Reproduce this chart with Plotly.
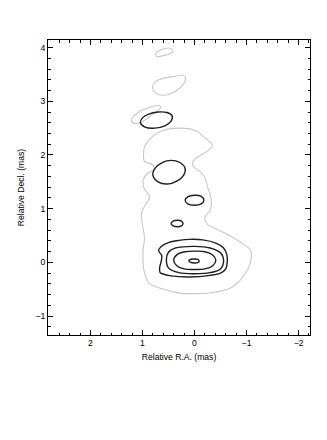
import plotly.graph_objects as go

GRAY_A_X = [0.75, 0.70, 0.60, 0.49, 0.42, 0.43, 0.52, 0.64, 0.73]
GRAY_A_Y = [3.86, 3.93, 3.97, 3.99, 3.96, 3.91, 3.87, 3.84, 3.83]

GRAY_B_X = [0.805, 0.74, 0.59, 0.40, 0.21, 0.17, 0.22, 0.34, 0.52, 0.71, 0.79]
GRAY_B_Y = [3.28, 3.37, 3.43, 3.46, 3.48, 3.42, 3.31, 3.20, 3.12, 3.13, 3.20]

GRAY_C_X = [1.21, 1.15, 1.02, 0.85, 0.71, 0.64, 0.70, 0.80, 0.92, 1.05, 1.17]
GRAY_C_Y = [2.67, 2.74, 2.83, 2.89, 2.92, 2.89, 2.83, 2.76, 2.67, 2.60, 2.59]

GRAY_D_X = [0.62, 0.45, 0.12, -0.05, -0.16, -0.32, -0.34, -0.28, -0.13, 0.02, 0.03,
            -0.10, -0.20, -0.26, -0.32, -0.30, -0.20, -0.23, -0.40, -0.60, -0.88,
            -1.08, -1.08, -0.95, -0.72, -0.35, 0.0, 0.30, 0.62, 0.88, 0.97, 0.99,
            0.96, 1.00, 1.02, 0.96, 0.86, 0.96, 0.99, 0.90, 0.78, 0.80, 0.96, 0.98,
            0.96, 0.87, 0.75]
GRAY_D_Y = [2.45, 2.49, 2.49, 2.44, 2.35, 2.22, 2.17, 2.10, 2.00, 1.90, 1.80,
            1.70, 1.58, 1.38, 1.19, 0.97, 0.84, 0.73, 0.63, 0.54, 0.38,
            0.22, 0.02, -0.24, -0.46, -0.56, -0.58, -0.57, -0.49, -0.38, -0.15, 0.20,
            0.45, 0.70, 0.90, 1.05, 1.22, 1.36, 1.52, 1.66, 1.73, 1.82, 1.88, 2.00,
            2.15, 2.28, 2.39]

BLACK_A_X = [1.04, 1.00, 0.88, 0.70, 0.53, 0.43, 0.45, 0.57, 0.76, 0.95]
BLACK_A_Y = [2.60, 2.69, 2.76, 2.80, 2.79, 2.73, 2.63, 2.54, 2.50, 2.52]

BLACK_B_X = [0.80, 0.75, 0.62, 0.45, 0.28, 0.18, 0.21, 0.33, 0.52, 0.70]
BLACK_B_Y = [1.63, 1.76, 1.86, 1.90, 1.86, 1.75, 1.62, 1.52, 1.46, 1.50]

BLACK_C_X = [0.18, 0.13, 0.0, -0.13, -0.18, -0.13, 0.0, 0.13]
BLACK_C_Y = [1.16, 1.22, 1.25, 1.23, 1.16, 1.09, 1.065, 1.09]

BLACK_D_X = [0.45, 0.41, 0.33, 0.25, 0.22, 0.25, 0.33, 0.41]
BLACK_D_Y = [0.725, 0.77, 0.785, 0.77, 0.725, 0.68, 0.665, 0.68]

CORE_1_X = [0.69, 0.62, 0.50, 0.30, 0.09, -0.16, -0.41, -0.56, -0.62, -0.63, -0.60,
            -0.50, -0.30, 0.09, 0.45, 0.62, 0.66, 0.67, 0.64, 0.63]
CORE_1_Y = [0.22, 0.31, 0.37, 0.41, 0.43, 0.42, 0.36, 0.27, 0.15, 0.02, -0.12,
            -0.20, -0.24, -0.27, -0.25, -0.21, -0.19, -0.10, 0.02, 0.13]

CORE_2_X = [0.54, 0.50, 0.36, 0.0, -0.30, -0.50, -0.56, -0.50, -0.30, 0.0, 0.30, 0.50]
CORE_2_Y = [0.05, 0.19, 0.27, 0.30, 0.27, 0.18, 0.03, -0.12, -0.19, -0.21, -0.19, -0.10]

CORE_3_X = [0.40, 0.33, 0.18, 0.0, -0.20, -0.35, -0.41, -0.35, -0.20, 0.0, 0.20, 0.34]
CORE_3_Y = [0.04, 0.15, 0.20, 0.21, 0.20, 0.14, 0.04, -0.06, -0.12, -0.13, -0.12, -0.06]

CORE_4_X = [0.11, 0.07, 0.0, -0.07, -0.09, -0.06, 0.0, 0.07]
CORE_4_Y = [0.03, 0.06, 0.065, 0.055, 0.025, -0.005, -0.01, 0.0]

GRAY = "#c8c8c8"
BLACK = "#1e1e1e"
FONT = "Liberation Sans, Arial, sans-serif"


def closed(xs, ys):
    return xs + xs[:1], ys + ys[:1]


fig = go.Figure()

for xs, ys in [(GRAY_A_X, GRAY_A_Y), (GRAY_B_X, GRAY_B_Y),
               (GRAY_C_X, GRAY_C_Y), (GRAY_D_X, GRAY_D_Y)]:
    cx, cy = closed(xs, ys)
    fig.add_trace(go.Scatter(x=cx, y=cy, mode="lines", showlegend=False, hoverinfo="skip",
                             line={"color": GRAY, "width": 1.1, "shape": "spline", "smoothing": 1}))

for xs, ys in [(BLACK_A_X, BLACK_A_Y), (BLACK_B_X, BLACK_B_Y), (BLACK_C_X, BLACK_C_Y),
               (BLACK_D_X, BLACK_D_Y), (CORE_1_X, CORE_1_Y), (CORE_2_X, CORE_2_Y),
               (CORE_3_X, CORE_3_Y), (CORE_4_X, CORE_4_Y)]:
    cx, cy = closed(xs, ys)
    fig.add_trace(go.Scatter(x=cx, y=cy, mode="lines", showlegend=False, hoverinfo="skip",
                             line={"color": BLACK, "width": 1.4, "shape": "spline", "smoothing": 1}))

axis_style = dict(
    showgrid=False,
    zeroline=False,
    showline=True,
    linecolor="black",
    linewidth=1,
    mirror="ticks",
    ticks="inside",
    ticklen=5,
    tickwidth=1,
    tickcolor="black",
    dtick=1,
    tick0=0,
    minor={"dtick": 0.2, "ticks": "inside", "ticklen": 2.5, "tickcolor": "black", "tickwidth": 1},
    tickfont={"family": FONT, "size": 8.6, "color": "black"},
)

# the page body adds an 8 px offset, so the margins are trimmed to keep the frame in place
fig.update_layout(
    width=327,
    height=440,
    paper_bgcolor="white",
    plot_bgcolor="white",
    margin={"l": 33, "r": 25, "t": 32, "b": 113},
    font={"family": FONT, "size": 8.6, "color": "black"},
    xaxis=dict(axis_style, range=[2.815, -2.22],
               title={"text": "Relative R.A. (mas)", "font": {"size": 8.6, "color": "black"},
                      "standoff": 6}),
    yaxis=dict(axis_style, range=[-1.35, 4.14],
               title={"text": "Relative Decl. (mas)", "font": {"size": 8.6, "color": "black"},
                      "standoff": 9}),
)

fig.write_html("out.html")
